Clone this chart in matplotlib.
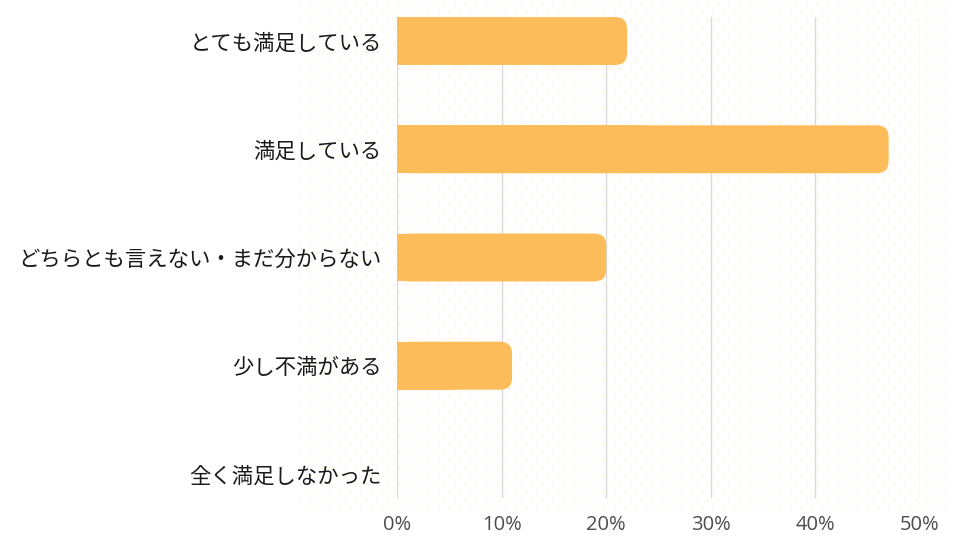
import matplotlib
matplotlib.use("Agg")
import matplotlib.pyplot as plt
import numpy as np
from matplotlib.patches import FancyBboxPatch, Rectangle

plt.rcParams['font.family'] = ['Noto Sans CJK JP', 'DejaVu Sans']

categories = ["とても満足している", "満足している", "どちらとも言えない・まだ分からない",
              "少し不満がある", "全く満足しなかった"]
values = [22, 47, 20, 11, 0]
xticks = [0, 10, 20, 30, 40, 50]
xticklabels = ["0%", "10%", "20%", "30%", "40%", "50%"]

bar_color = "#FDBC5A"
bar_h = 0.443

fig = plt.figure(figsize=(9.6, 5.4), dpi=100)

# faint dotted background pattern (decoration)
bg = fig.add_axes([0, 0, 1, 1], zorder=0)
bg.set_xlim(0, 960)
bg.set_ylim(540, 0)
bg.axis("off")
xs, ys = [], []
for j, yy in enumerate(np.arange(4, 512, 8)):
    off = 5.5 if j % 2 else 0
    for xx in np.arange(300 + off, 952, 11):
        xs.append(xx)
        ys.append(yy)
bg.scatter(xs, ys, s=4, color="#FEF5E8", linewidths=0)

ax = fig.add_axes([397/960, 1 - 498/540, (920 - 397)/960, (498 - 17)/540], zorder=1)
ax.patch.set_alpha(0)
ax.set_xlim(0, 50)
ax.set_ylim(4 + 0.222, -0.222)

for i, v in enumerate(values):
    if v <= 0:
        continue
    r = 1.15
    asp = 0.111 / 1.15
    ax.add_patch(FancyBboxPatch((0, i - bar_h/2), v, bar_h,
                                boxstyle=f"round,pad=0,rounding_size={r}",
                                mutation_aspect=asp, facecolor=bar_color,
                                edgecolor="none", zorder=3))
    ax.add_patch(Rectangle((0, i - bar_h/2), v/2, bar_h, facecolor=bar_color,
                           edgecolor="none", zorder=3))

ax.set_yticks(range(len(categories)))
ax.set_yticklabels(categories, fontsize=15.4, color="#1a1a1a")
ax.set_xticks(xticks)
ax.set_xticklabels(xticklabels, fontsize=14.5, color="#4d4d4d", family="Open Sans")
ax.tick_params(length=0)
ax.tick_params(axis="y", pad=11)
ax.tick_params(axis="x", pad=12)
ax.grid(axis="x", color="#d9d9d9", linewidth=1)
ax.set_axisbelow(True)
for s in ax.spines.values():
    s.set_visible(False)

fig.savefig("out.png", dpi=100)
